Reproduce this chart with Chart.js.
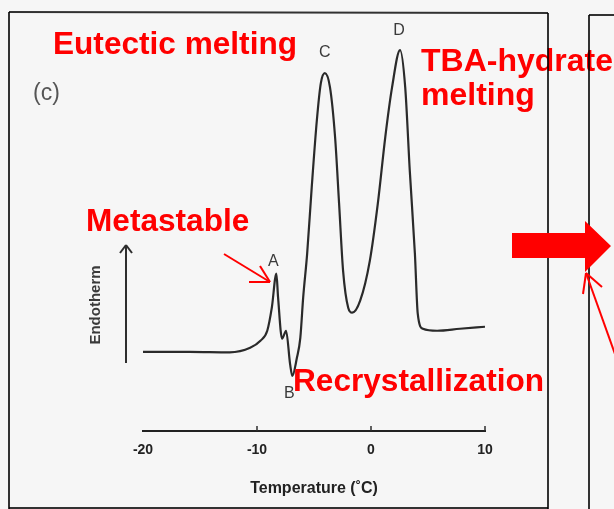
<!DOCTYPE html>
<html>
<head>
<meta charset="utf-8">
<script src="https://cdn.jsdelivr.net/npm/chart.js@4.4.1/dist/chart.umd.min.js"></script>
<style>
  html, body { margin: 0; padding: 0; background: #f6f6f6; }
  #wrap { width: 614px; height: 509px; position: relative; }
</style>
</head>
<body>
<div id="wrap"><canvas id="dsc"></canvas></div>
<script>
// DSC trace (temperature in °C, heat flow in arbitrary units)
const temps = [-20, -15.9, -12.4, -10.6, -9.7, -9.1, -8.7, -8.3, -8.15, -7.8, -7.45, -7.1, -6.9, -6.5, -6.2, -5.95,
  -5.6, -5.2, -4.75, -4.4, -4.05, -3.6, -3.15, -2.8, -2.45, -2.0, -1.65, -0.95, -0.1, 0.6, 1.25, 1.85, 2.55, 3.0,
  3.4, 3.85, 4.1, 4.55, 5.8, 7.8, 10];
const heatFlow = [7.9, 7.9, 7.85, 8.3, 9.0, 10.0, 12.3, 15.7, 13.3, 9.2, 10.0, 6.7, 5.5, 7.3, 9.3, 13.3,
  17.7, 24.3, 31.0, 34.7, 35.7, 34.3, 29.3, 22.7, 16.0, 12.3, 11.8, 13.0, 17.0, 22.7, 29.3, 34.3, 38.0, 34.3,
  26.0, 17.7, 11.7, 10.2, 10.0, 10.2, 10.4];
const xTicks = [-20, -10, 0, 10];

// peak letters
const peakLabels = ['A', 'B', 'C', 'D'];
const peakTemps = [-8.3, -6.9, -4.05, 2.55];
const peakHeat = [15.7, 5.5, 35.7, 38.0];

const RED = '#ff0000';
const INK = '#2e2e2e';
const FONT = "'Liberation Sans', Arial, sans-serif";

// --- drawing helpers ---
function line(ctx, x1, y1, x2, y2) {
  ctx.beginPath();
  ctx.moveTo(x1, y1);
  ctx.lineTo(x2, y2);
  ctx.stroke();
}

const background = {
  id: 'background',
  beforeDraw(chart) {
    const ctx = chart.ctx;
    ctx.save();
    ctx.fillStyle = '#f6f6f6';
    ctx.fillRect(0, 0, chart.width, chart.height);
    ctx.restore();
  }
};

const decorations = {
  id: 'decorations',
  afterDraw(chart) {
    const ctx = chart.ctx;
    const xs = chart.scales.x;
    const ys = chart.scales.y;
    ctx.save();

    // upward tick marks on the temperature axis
    ctx.strokeStyle = INK;
    ctx.lineWidth = 1.5;
    xTicks.slice(1).forEach(t => {
      const px = xs.getPixelForValue(t);
      line(ctx, px, chart.chartArea.bottom, px, chart.chartArea.bottom - 5);
    });

    // peak letters
    const dx = [-3, -3, 0, -1];
    const dy = [-12, 18, -21, -19];
    ctx.fillStyle = '#3a3a3a';
    ctx.font = '16px ' + FONT;
    ctx.textAlign = 'center';
    ctx.textBaseline = 'middle';
    peakLabels.forEach((lab, i) => {
      ctx.fillText(lab, xs.getPixelForValue(peakTemps[i]) + dx[i], ys.getPixelForValue(peakHeat[i]) + dy[i]);
    });

    // panel label
    ctx.font = '23px ' + FONT;
    ctx.fillStyle = '#555';
    ctx.textAlign = 'left';
    ctx.fillText('(c)', 33, 94);

    // Endotherm arrow
    ctx.strokeStyle = INK;
    ctx.lineWidth = 2;
    line(ctx, 126, 363, 126, 246);
    line(ctx, 126, 245, 120, 253);
    line(ctx, 126, 245, 132, 253);
    ctx.save();
    ctx.translate(96, 305);
    ctx.rotate(-Math.PI / 2);
    ctx.font = 'bold 15px ' + FONT;
    ctx.fillStyle = '#3a3a3a';
    ctx.textAlign = 'center';
    ctx.fillText('Endotherm', 0, 0);
    ctx.restore();

    // red annotations
    ctx.fillStyle = RED;
    ctx.font = 'bold 31.6px ' + FONT;
    ctx.textAlign = 'left';
    ctx.textBaseline = 'alphabetic';
    ctx.fillText('Eutectic melting', 53, 54);
    ctx.fillText('Metastable', 86, 231);
    ctx.fillText('Recrystallization', 293, 391);
    ctx.font = 'bold 32px ' + FONT;
    ctx.fillText('TBA-hydrate', 421, 71);
    ctx.fillText('melting', 421, 105);

    // panel frames (drawn over the text, like the scan)
    ctx.globalCompositeOperation = 'multiply';
    ctx.strokeStyle = '#333';
    ctx.lineWidth = 2;
    line(ctx, 9, 12, 548, 13);
    line(ctx, 9, 12, 9, 509);
    line(ctx, 548, 13, 548, 509);
    line(ctx, 9, 508, 548, 508);
    line(ctx, 589, 15, 614, 15);
    line(ctx, 589, 15, 589, 509);
    ctx.globalCompositeOperation = 'source-over';

    // arrow pointing at peak A
    ctx.strokeStyle = RED;
    ctx.lineWidth = 2;
    line(ctx, 224, 254, 270, 282);
    line(ctx, 270, 282, 249, 282);
    line(ctx, 270, 282, 260, 266);

    // big block arrow to the next panel
    ctx.fillStyle = RED;
    ctx.beginPath();
    ctx.moveTo(512, 233);
    ctx.lineTo(585, 233);
    ctx.lineTo(585, 221);
    ctx.lineTo(611, 246);
    ctx.lineTo(585, 272);
    ctx.lineTo(585, 258);
    ctx.lineTo(512, 258);
    ctx.closePath();
    ctx.fill();

    // thin arrow at lower right
    line(ctx, 586, 273, 620, 368);
    line(ctx, 586, 273, 583, 294);
    line(ctx, 586, 273, 602, 287);

    ctx.restore();
  }
};

new Chart(document.getElementById('dsc'), {
  type: 'line',
  data: {
    datasets: [{
      data: temps.map((t, i) => ({ x: t, y: heatFlow[i] })),
      borderColor: '#2a2a2a',
      borderWidth: 2.2,
      pointRadius: 0,
      cubicInterpolationMode: 'monotone',
      fill: false
    }]
  },
  options: {
    responsive: true,
    maintainAspectRatio: false,
    animation: false,
    layout: { padding: { left: 143, right: 129, top: 30, bottom: 11 } },
    plugins: {
      legend: { display: false },
      tooltip: { enabled: false }
    },
    scales: {
      x: {
        type: 'linear',
        min: -20,
        max: 10,
        grid: { display: false, drawTicks: false },
        border: { display: true, color: '#222', width: 2 },
        afterBuildTicks: axis => { axis.ticks = xTicks.map(v => ({ value: v })); },
        ticks: {
          color: '#222',
          padding: 11,
          font: { family: FONT, size: 14, weight: 'bold' }
        },
        title: {
          display: true,
          text: 'Temperature (˚C)',
          color: '#222',
          padding: { top: 9, bottom: 0 },
          font: { family: FONT, size: 16, weight: 'bold' }
        }
      },
      y: {
        display: false,
        min: 0,
        max: 40
      }
    }
  },
  plugins: [background, decorations]
});
</script>
</body>
</html>
